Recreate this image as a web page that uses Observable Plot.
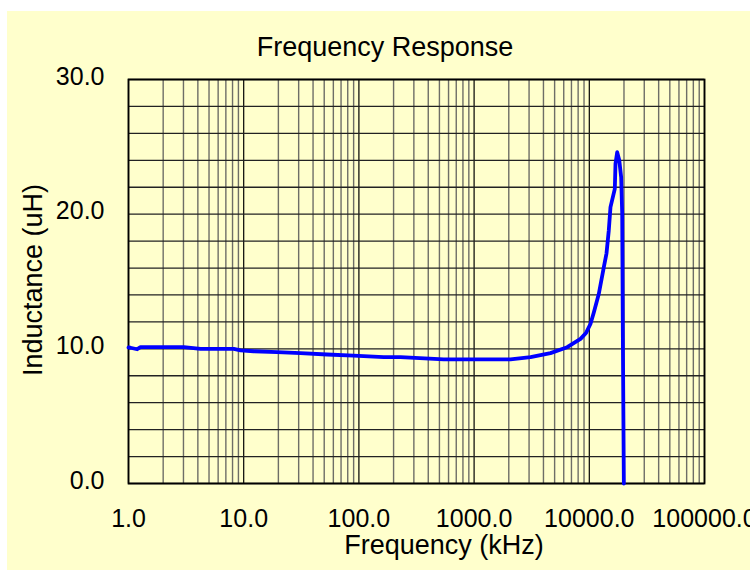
<!DOCTYPE html>
<html>
<head>
<meta charset="utf-8">
<script src="https://cdn.jsdelivr.net/npm/d3@7"></script>
<script src="https://cdn.jsdelivr.net/npm/@observablehq/plot@0.6"></script>
<style>
  body { margin: 0; background: #ffffff; }
  #wrap { position: relative; width: 750px; height: 570px; overflow: hidden; font-family: "Liberation Sans", Arial, sans-serif; }
  #bg { position: absolute; left: 7px; top: 11px; width: 743px; height: 559px; background: #FFFFCC; }
  #chart { position: absolute; left: 0; top: 0; }
  .lbl { position: absolute; transform: translate(-50%, -50%); white-space: nowrap; color: #000; }
</style>
</head>
<body>
<div id="wrap">
  <div id="bg"></div>
  <div id="chart"></div>
  <div class="lbl" style="left:385px; top:47px; font-size:27px;">Frequency Response</div>
  <div class="lbl" style="left:444px; top:545px; font-size:27px;">Frequency (kHz)</div>
  <div class="lbl" style="left:33px; top:280px; font-size:27px; transform: translate(-50%, -50%) rotate(-90deg);">Inductance (uH)</div>
</div>
<script>
const frequency = [1.0, 1.04, 1.19, 1.27, 2, 3.02, 4.22, 8.2, 9.4, 12.2, 19.5, 31.1, 53, 90, 164, 230, 546, 1000, 2070, 3090, 4600, 6430, 8390, 9400, 10250, 10960, 12100, 13370, 14100, 14760, 15270, 16650, 16880, 17460, 18200, 18910, 19300, 19540, 19950];
const inductance = [10.1, 10.08, 9.97, 10.12, 10.12, 10.12, 10.0, 10.0, 9.88, 9.82, 9.75, 9.68, 9.58, 9.50, 9.38, 9.38, 9.21, 9.21, 9.21, 9.38, 9.68, 10.12, 10.74, 11.2, 11.86, 12.72, 14.09, 16.06, 17.08, 18.79, 20.52, 21.88, 23.74, 24.6, 24.0, 22.74, 20.05, 11.36, 0];

const xTicks = [1, 10, 100, 1000, 10000, 100000];
const yTicks = [0, 10, 20, 30];
const yGrid = [0, 2, 4, 6, 8, 10, 12, 14, 16, 18, 20, 22, 24, 26, 28, 30];
const multipliers = [2, 3, 4, 5, 6, 7, 8, 9];

const xMinor = xTicks.slice(0, -1).flatMap(d => multipliers.map(m => m * d));
const data = frequency.map((f, i) => ({f, L: inductance[i]}));

const chart = Plot.plot({
  width: 750,
  height: 570,
  marginLeft: 128,
  marginRight: 46,
  marginTop: 79,
  marginBottom: 87,
  style: {background: "transparent", fontFamily: "'Liberation Sans', Arial, sans-serif", color: "#000"},
  x: {type: "log", domain: [1, 100000]},
  y: {domain: [0, 30]},
  marks: [
    Plot.ruleX(xMinor, {stroke: "#555", strokeWidth: 1.4, strokeOpacity: 0.85}),
    Plot.ruleX(xTicks, {stroke: "#000", strokeWidth: 1.2}),
    Plot.ruleY(yGrid, {stroke: "#222", strokeWidth: 1.3}),
    Plot.frame({stroke: "#000", strokeWidth: 1.8}),
    Plot.axisX(xTicks, {tickSize: 0, tickPadding: 26, fontSize: 25, tickFormat: d => d.toFixed(1), label: null}),
    Plot.axisY(yTicks, {tickSize: 0, tickPadding: 24, fontSize: 25, tickFormat: d => d.toFixed(1), label: null, dy: -3}),
    Plot.line(data, {x: "f", y: "L", stroke: "#0000FF", strokeWidth: 3.8, curve: "linear"})
  ]
});
document.getElementById("chart").appendChild(chart);
</script>
</body>
</html>
